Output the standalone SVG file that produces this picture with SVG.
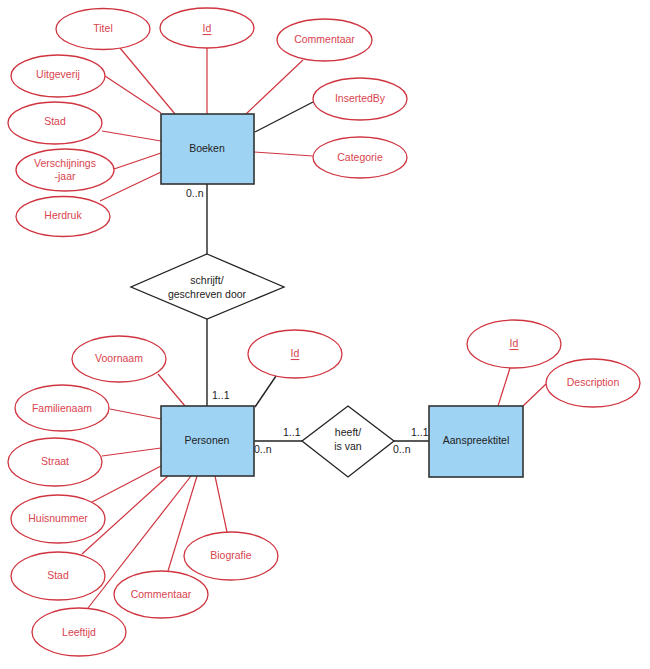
<svg xmlns="http://www.w3.org/2000/svg" width="650" height="669" viewBox="0 0 650 669">
<style>
.attr ellipse{fill:#fff;stroke:#d0343f;stroke-width:1.3}
.attr text{fill:#d9434e;font-family:"Liberation Sans",Arial,sans-serif;font-size:10.5px;text-anchor:middle;dominant-baseline:central}
.key text{text-decoration:underline}
.ent rect{fill:#9ed3f3;stroke:#333;stroke-width:1.6}
.ent text,.rel text{fill:#222;font-family:"Liberation Sans",Arial,sans-serif;font-size:10.5px;text-anchor:middle;dominant-baseline:central}
.rel polygon{fill:#fff;stroke:#222;stroke-width:1.3}
.r{stroke:#d0343f;stroke-width:1.2;fill:none}
.b{stroke:#222;stroke-width:1.4;fill:none}
.lab{fill:#222;font-family:"Liberation Sans",Arial,sans-serif;font-size:10.5px}
</style>
<rect width="650" height="669" fill="#fff"/>
<g id="connectors">
<line class="r" x1="120" y1="48" x2="175" y2="114"/>
<line class="r" x1="207" y1="48" x2="207" y2="114"/>
<line class="r" x1="303" y1="60" x2="246" y2="114"/>
<line class="b" x1="255" y1="132" x2="313" y2="102"/>
<line class="r" x1="254" y1="152" x2="313" y2="156"/>
<line class="r" x1="105" y1="76" x2="161" y2="113"/>
<line class="r" x1="102" y1="131" x2="161" y2="141"/>
<line class="r" x1="114" y1="169" x2="161" y2="153"/>
<line class="r" x1="100" y1="201" x2="161" y2="172"/>
<line class="b" x1="207" y1="184" x2="207" y2="254"/>
<line class="b" x1="207" y1="319" x2="207" y2="406"/>
<line class="r" x1="158" y1="374" x2="185" y2="406"/>
<line class="r" x1="110" y1="409" x2="161" y2="419"/>
<line class="r" x1="102" y1="456" x2="161" y2="448"/>
<line class="r" x1="92" y1="502" x2="161" y2="466"/>
<line class="r" x1="82" y1="554" x2="168" y2="476"/>
<line class="r" x1="88" y1="608" x2="191" y2="476"/>
<line class="r" x1="168" y1="571" x2="197" y2="476"/>
<line class="r" x1="227" y1="532" x2="215" y2="476"/>
<line class="b" x1="276" y1="376" x2="255" y2="407"/>
<line class="b" x1="254" y1="441" x2="302" y2="441"/>
<line class="b" x1="394" y1="441" x2="429" y2="441"/>
<line class="r" x1="510" y1="368" x2="498" y2="406"/>
<line class="r" x1="546" y1="384" x2="523" y2="406"/>
<text class="lab" x="186" y="197">0..n</text>
<text class="lab" x="212" y="399">1..1</text>
<text class="lab" x="283" y="436">1..1</text>
<text class="lab" x="254" y="453">0..n</text>
<text class="lab" x="411" y="436">1..1</text>
<text class="lab" x="393" y="453">0..n</text>
</g>
<g id="boeken" class="ent"><rect x="161" y="114" width="93" height="70"/><text x="207" y="148">Boeken</text></g>
<g id="personen" class="ent"><rect x="161" y="406" width="93" height="70"/><text x="207" y="440">Personen</text></g>
<g id="aanspreektitel" class="ent"><rect x="429" y="406" width="94" height="71"/><text x="476" y="440">Aanspreektitel</text></g>
<g id="schrijft" class="rel"><polygon points="207,254 284,287 207,319 131,287"/><text x="207" y="280">schrijft/</text><text x="207" y="294">geschreven door</text></g>
<g id="heeft" class="rel"><polygon points="348,406 394,441 348,477 302,441"/><text x="348" y="432">heeft/</text><text x="348" y="446">is van</text></g>
<g id="b-titel" class="attr"><ellipse cx="103" cy="29" rx="47" ry="20.5"/><text x="103" y="28">Titel</text></g>
<g id="b-id" class="attr key"><ellipse cx="207" cy="28" rx="47" ry="20"/><text x="207" y="28">Id</text></g>
<g id="b-commentaar" class="attr"><ellipse cx="324.5" cy="40" rx="47.5" ry="21"/><text x="324.5" y="39">Commentaar</text></g>
<g id="b-insertedby" class="attr"><ellipse cx="360" cy="99" rx="47" ry="21"/><text x="360" y="98">InsertedBy</text></g>
<g id="b-categorie" class="attr"><ellipse cx="360" cy="157.5" rx="47" ry="20.5"/><text x="360" y="157">Categorie</text></g>
<g id="b-uitgeverij" class="attr"><ellipse cx="58" cy="76" rx="47" ry="21"/><text x="58" y="74">Uitgeverij</text></g>
<g id="b-stad" class="attr"><ellipse cx="55" cy="123" rx="47" ry="21"/><text x="55" y="121">Stad</text></g>
<g id="b-verschijningsjaar" class="attr"><ellipse cx="65" cy="170" rx="49" ry="21"/><text x="65" y="163">Verschijnings</text><text x="65" y="176">-jaar</text></g>
<g id="b-herdruk" class="attr"><ellipse cx="63" cy="216.5" rx="47" ry="20"/><text x="63" y="215">Herdruk</text></g>
<g id="p-voornaam" class="attr"><ellipse cx="119" cy="359" rx="47" ry="23"/><text x="119" y="358">Voornaam</text></g>
<g id="p-familienaam" class="attr"><ellipse cx="62" cy="408" rx="47" ry="23"/><text x="62" y="408">Familienaam</text></g>
<g id="p-straat" class="attr"><ellipse cx="55" cy="462" rx="47" ry="24"/><text x="55" y="461">Straat</text></g>
<g id="p-huisnummer" class="attr"><ellipse cx="58" cy="519" rx="47" ry="24"/><text x="58" y="518">Huisnummer</text></g>
<g id="p-stad" class="attr"><ellipse cx="58" cy="576" rx="47" ry="24"/><text x="58" y="575">Stad</text></g>
<g id="p-commentaar" class="attr"><ellipse cx="161" cy="594.5" rx="47" ry="23.5"/><text x="161" y="594">Commentaar</text></g>
<g id="p-leeftijd" class="attr"><ellipse cx="79" cy="632" rx="47" ry="24"/><text x="79" y="632">Leeftijd</text></g>
<g id="p-biografie" class="attr"><ellipse cx="231" cy="556" rx="47" ry="24"/><text x="231" y="555">Biografie</text></g>
<g id="p-id" class="attr key"><ellipse cx="295" cy="354" rx="47" ry="24"/><text x="295" y="353">Id</text></g>
<g id="a-id" class="attr key"><ellipse cx="514" cy="344" rx="47" ry="24"/><text x="514" y="343">Id</text></g>
<g id="a-description" class="attr"><ellipse cx="593" cy="383" rx="47" ry="24"/><text x="593" y="382">Description</text></g>
</svg>
